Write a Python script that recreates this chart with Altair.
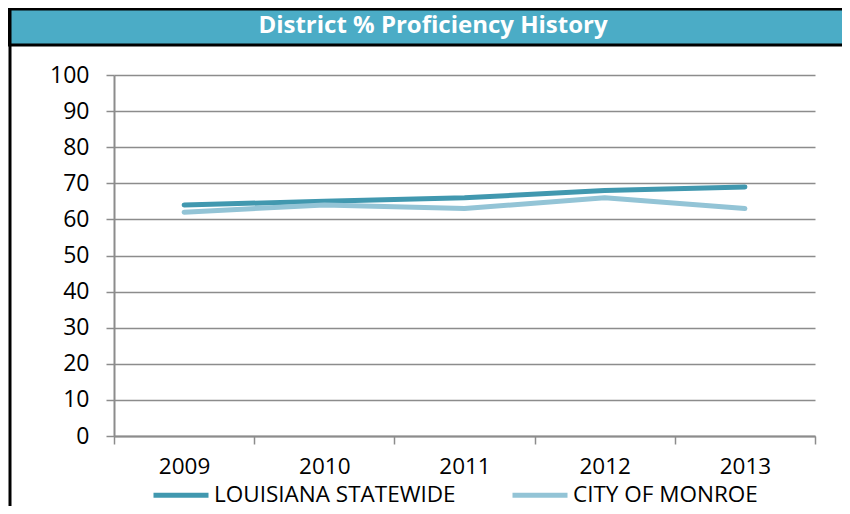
import altair as alt
import pandas as pd

years = ["2009", "2010", "2011", "2012", "2013"]
louisiana = [64, 65, 66, 68, 69]
monroe = [62, 64, 63, 66, 63]
series_names = ["LOUISIANA STATEWIDE", "CITY OF MONROE"]
series_colors = ["#4198AF", "#93C4D6"]
title_text = "District % Proficiency History"
y_ticks = [0, 10, 20, 30, 40, 50, 60, 70, 80, 90, 100]

rows = []
for i, y in enumerate(years):
    rows.append({"year": y, "series": series_names[0], "value": louisiana[i]})
    rows.append({"year": y, "series": series_names[1], "value": monroe[i]})
df = pd.DataFrame(rows)

FONT = "Open Sans"
GRAY = "#8C8C8C"

lines = alt.Chart(df).mark_line(strokeWidth=5, strokeCap="round", strokeJoin="round").encode(
    x=alt.X("year:N", sort=years,
            scale=alt.Scale(paddingInner=0, paddingOuter=0),
            axis=alt.Axis(title=None, labelAngle=0, tickBand="extent", tickSize=8,
                          tickColor=GRAY, tickWidth=1.5, domainColor=GRAY, domainWidth=2,
                          labelPadding=11, labelFontSize=22.5, labelFont=FONT, labelColor="#000",
                          grid=False)),
    y=alt.Y("value:Q", scale=alt.Scale(domain=[0, 100], nice=False),
            axis=alt.Axis(title=None, values=y_ticks, tickSize=8, tickColor=GRAY, tickWidth=1.5,
                          domainColor=GRAY, domainWidth=2, gridColor=GRAY, gridWidth=1.5,
                          labelPadding=17, labelFontSize=23, labelFont=FONT, labelColor="#000")),
    color=alt.Color("series:N", sort=series_names,
                    scale=alt.Scale(domain=series_names, range=series_colors),
                    legend=alt.Legend(title=None, orient="none", legendX=37, legendY=390,
                                      direction="horizontal", symbolType="stroke",
                                      symbolStrokeWidth=5, symbolSize=3025,
                                      labelFontSize=22.5, labelFont=FONT, labelColor="#000",
                                      labelLimit=500, columnPadding=46, labelOffset=3)),
)

deco = alt.Chart(pd.DataFrame({"t": [title_text]}))

title_bar = deco.mark_rect(fill="#4BACC6", stroke="#000", strokeWidth=3).encode(
    x=alt.value(-105), x2=alt.value(740), y=alt.value(-66), y2=alt.value(-30)
)
title = deco.mark_text(color="white", fontSize=24, fontWeight="bold", font=FONT,
                       align="center", baseline="middle").encode(
    x=alt.value(319), y=alt.value(-49), text="t:N"
)
left_border = deco.mark_rule(color="#000", strokeWidth=3).encode(
    x=alt.value(-104), y=alt.value(-66), y2=alt.value(470)
)

chart = alt.layer(lines, title_bar, title, left_border).properties(
    width=701, height=361,
    autosize=alt.AutoSizeParams(type="none"),
    padding={"left": 106, "top": 67, "right": 27, "bottom": 70},
).configure_view(stroke=None)

chart.save("out.html", embed_options={"renderer": "svg", "actions": False})
